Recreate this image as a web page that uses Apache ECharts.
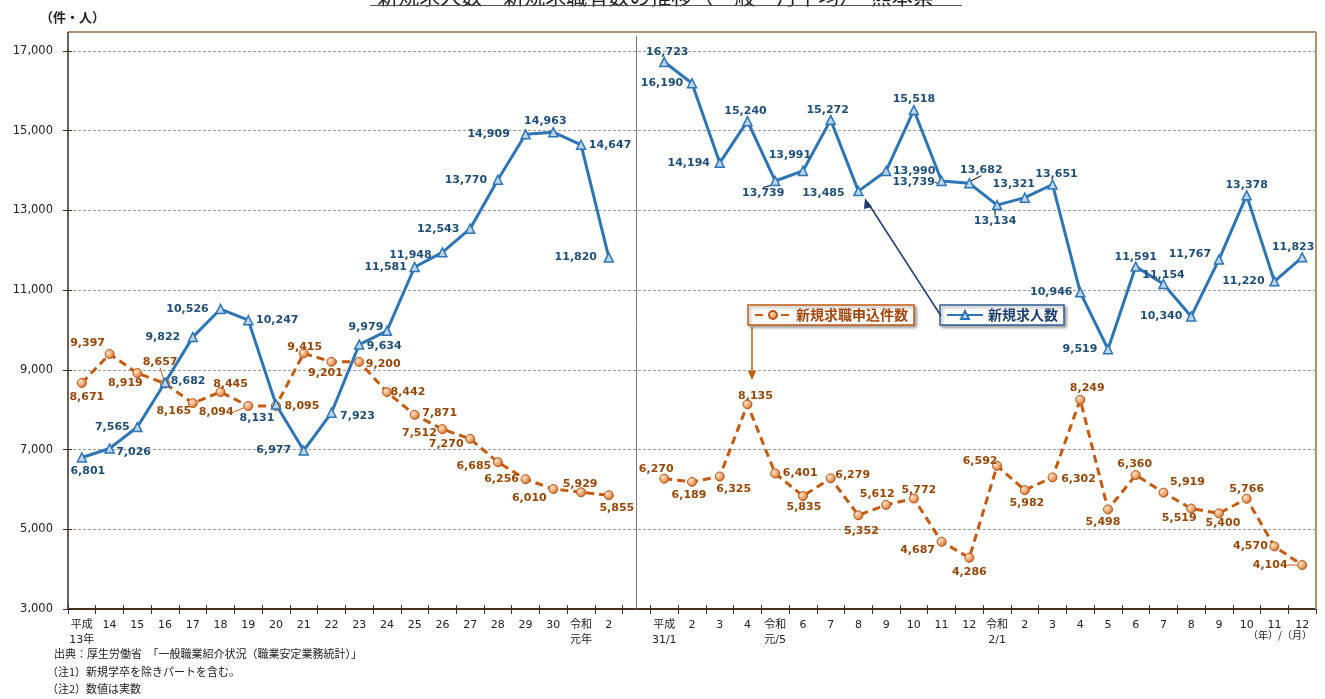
<!DOCTYPE html>
<html><head><meta charset="utf-8">
<script src="https://cdn.jsdelivr.net/npm/echarts@6/dist/echarts.min.js"></script>
<style>html,body{margin:0;padding:0;background:#fff}#c{width:1325px;height:699px}</style>
</head><body><div id="c"></div>
<script>
// ---- data ----
const yearCats = ['平成\n13年','14','15','16','17','18','19','20','21','22','23','24','25','26','27','28','29','30','令和\n元年','2'];
const monthCats = ['平成\n31/1','2','3','4','令和\n元/5','6','7','8','9','10','11','12','令和\n2/1','2','3','4','5','6','7','8','9','10','11','12'];
const yearJobs = [6801,7026,7565,8682,9822,10526,10247,8131,6977,7923,9634,9979,11581,11948,12543,13770,14909,14963,14647,11820];
const yearApps = [8671,9397,8919,8657,8165,8445,8094,8095,9415,9201,9200,8442,7871,7512,7270,6685,6256,6010,5929,5855];
const monthJobs = [16723,16190,14194,15240,13739,13991,15272,13485,13990,15518,13739,13682,13134,13321,13651,10946,9519,11591,11154,10340,11767,13378,11220,11823];
const monthApps = [6270,6189,6325,8135,6401,5835,6279,5352,5612,5772,4687,4286,6592,5982,6302,8249,5498,6360,5919,5519,5400,5766,4570,4104];
const yMin = 3000, yMax = 17000, yStep = 2000;

// ---- label placement (style only) ----
const jobsOffYear = [[6,14],[24,4],[-25,0],[23,-1],[-30,0],[-33,0],[29,0],[-19,14],[-30,0],[26,3],[25,2],[-21,-4],[-29,0],[-32,3],[-32,0],[-32,0],[-37,0],[-8,-11],[29,0],[-33,0]];
const jobsOffMonth = [[3,-10],[-30,0],[-31,0],[-2,-10],[-12,12],[-13,-16],[-3,-10],[-35,2],[28,0],[0,-11],[-28,1],[12,-13],[-2,16],[-11,-13],[4,-10],[-29,0],[-28,0],[0,-9],[0,-9],[-30,0],[-29,-5],[0,-10],[-31,0],[-9,-10]];
const appsOffYear = [[5,14],[-22,-11],[-12,10],[-5,-21],[-19,8],[10,-8],[-32,6],[26,0],[1,-6],[-6,11],[24,2],[21,0],[25,-2],[-23,4],[-24,5],[-24,4],[-24,0],[-24,9],[-1,-8],[8,13]];
const appsOffMonth = [[-8,-10],[-3,13],[14,13],[8,-8],[25,0],[1,11],[22,-3],[3,16],[-9,-11],[5,-8],[-24,8],[0,14],[-17,-5],[2,13],[26,2],[7,-12],[-5,13],[-1,-11],[24,-11],[-12,10],[4,10],[0,-10],[-24,0],[-32,0]];
const jobsLeaders = [25,31,32,33];
const appsLeaders = [3,6,33,44];

const cats = yearCats.concat([''], monthCats);
const jobsAll = yearJobs.concat([null], monthJobs);
const appsAll = yearApps.concat([null], monthApps);
const jobsOff = jobsOffYear.concat([null], jobsOffMonth);
const appsOff = appsOffYear.concat([null], appsOffMonth);

const numFont = 'DejaVu Sans, Verdana, sans-serif';
const jpFont = 'DejaVu Sans, Noto Sans CJK JP, sans-serif';
const blueLine = '#2e75b6', blueText = '#1f4e79';
const orangeLine = '#c55a11', orangeText = '#974706';

function mkData(vals, leaders, lineColor) {
  return vals.map((v, i) => {
    if (v === null) return '-';
    const d = { value: v };
    if (leaders.indexOf(i) >= 0) d.labelLine = { show: true, lineStyle: { color: lineColor, width: 1 } };
    return d;
  });
}

const chart = echarts.init(document.getElementById('c'), null, { renderer: 'canvas' });
const option = {
  animation: false,
  backgroundColor: '#fff',
  grid: { left: 68, right: 9, top: 51, bottom: 90 },
  xAxis: [{
    type: 'category', data: cats, boundaryGap: true,
    axisLine: { lineStyle: { color: '#4a3020', width: 2 } },
    axisTick: { show: true, length: 5, lineStyle: { color: '#4a3020' }, interval: 0 },
    axisLabel: { interval: 0, color: '#222', fontSize: 11, fontFamily: jpFont, lineHeight: 15, margin: 9 },
    splitLine: { show: false }
  }, {
    type: 'category', data: cats, boundaryGap: true, position: 'bottom',
    axisLine: { show: false },
    axisTick: { show: true, inside: true, length: 4, lineStyle: { color: '#4a3020' }, interval: 0 },
    axisLabel: { show: false }, splitLine: { show: false }
  }],
  yAxis: [{
    type: 'value', min: yMin, max: yMax, interval: yStep,
    axisLine: { show: true, lineStyle: { color: '#3a2a20', width: 1.5 } },
    axisTick: { show: true, length: 5, lineStyle: { color: '#3a2a20' } },
    axisLabel: { color: '#222', fontSize: 11.5, fontFamily: numFont, margin: 15,
      formatter: v => v.toLocaleString('en-US') },
    splitLine: { lineStyle: { color: '#999', type: [3, 2], width: 1 } }
  }, {
    type: 'value', min: yMin, max: yMax, interval: yStep, position: 'left',
    axisLine: { show: false },
    axisTick: { show: true, inside: true, length: 4, lineStyle: { color: '#3a2a20' } },
    axisLabel: { show: false }, splitLine: { show: false }
  }],
  legend: [
    { data: ['新規求職申込件数'], left: 748, top: 305, orient: 'horizontal', padding: [3, 6],
      itemWidth: 36, itemHeight: 10, itemGap: 10,
      backgroundColor: '#fff', borderColor: orangeLine, borderWidth: 1.5,
      shadowBlur: 3, shadowColor: 'rgba(0,0,0,0.35)', shadowOffsetX: 2, shadowOffsetY: 2,
      textStyle: { color: '#a5470b', fontWeight: 'bold', fontSize: 14, fontFamily: 'Noto Sans CJK JP' } },
    { data: ['新規求人数'], left: 940, top: 305, orient: 'horizontal', padding: [3, 6],
      itemWidth: 36, itemHeight: 10, itemGap: 10,
      backgroundColor: '#fff', borderColor: '#2f5f93', borderWidth: 1.5,
      shadowBlur: 3, shadowColor: 'rgba(0,0,0,0.35)', shadowOffsetX: 2, shadowOffsetY: 2,
      textStyle: { color: '#1f3f6f', fontWeight: 'bold', fontSize: 14, fontFamily: 'Noto Sans CJK JP' } }
  ],
  series: [
    {
      name: '新規求人数', type: 'line', data: mkData(jobsAll, jobsLeaders, '#000'),
      connectNulls: false, z: 3,
      lineStyle: { color: blueLine, width: 3 },
      symbol: 'triangle', symbolSize: 9, showAllSymbol: true,
      itemStyle: { color: '#bcd5ee', borderColor: blueLine, borderWidth: 1.5 },
      label: { show: true, position: 'inside', color: blueText, fontSize: 11, fontWeight: 'bold', fontFamily: numFont,
        formatter: p => p.value.toLocaleString('en-US') },
      labelLine: { show: false },
      labelLayout: p => { const o = jobsOff[p.dataIndex] || [0, 0]; return { dx: o[0], dy: o[1] }; }
    },
    {
      name: '新規求職申込件数', type: 'line', data: mkData(appsAll, appsLeaders, orangeLine),
      connectNulls: false, z: 2,
      lineStyle: { color: orangeLine, width: 3, type: [8, 5] },
      symbol: 'circle', symbolSize: 9, showAllSymbol: true,
      itemStyle: {
        color: new echarts.graphic.RadialGradient(0.35, 0.35, 0.7, [
          { offset: 0, color: '#fde3cc' }, { offset: 0.6, color: '#eda066' }, { offset: 1, color: '#b85a1a' }]),
        borderColor: '#b8581a', borderWidth: 1
      },
      label: { show: true, position: 'inside', color: orangeText, fontSize: 11, fontWeight: 'bold', fontFamily: numFont,
        formatter: p => p.value.toLocaleString('en-US') },
      labelLine: { show: false },
      labelLayout: p => { const o = appsOff[p.dataIndex] || [0, 0]; return { dx: o[0], dy: o[1] }; }
    }
  ]
};
chart.setOption(option);

// annotations
const divX = chart.convertToPixel({ xAxisIndex: 0 }, 20);
const xL = 68, xR = 1316, yT = 32, yB = 609;
chart.setOption({
  graphic: [
    { type: 'line', shape: { x1: xL, y1: yT, x2: xR, y2: yT }, style: { stroke: '#b8907a', lineWidth: 2 }, z: 1 },
    { type: 'line', shape: { x1: xR, y1: yT, x2: xR, y2: yB }, style: { stroke: '#b8907a', lineWidth: 2 }, z: 1 },
    { type: 'line', shape: { x1: xL, y1: yT, x2: xL, y2: 51 }, style: { stroke: '#3a2a20', lineWidth: 1.5 }, z: 1 },
    { type: 'line', shape: { x1: divX, y1: 36, x2: divX, y2: yB }, style: { stroke: '#777', lineWidth: 1 }, z: 1 },
    // title (cut off at the top)
    { type: 'text', style: { text: '新規求人数・新規求職者数の推移（一般・月平均）・熊本県・', x: 666, y: 7, textAlign: 'center', textVerticalAlign: 'bottom',
      fill: '#222', font: '21px "Noto Sans CJK JP"' } },
    { type: 'line', shape: { x1: 370, y1: 5.5, x2: 962, y2: 5.5 }, style: { stroke: '#555', lineWidth: 1.2 } },
    { type: 'text', style: { text: '（件・人）', x: 40, y: 17, textVerticalAlign: 'middle', fill: '#222', font: 'bold 13px "Noto Sans CJK JP"' } },
    { type: 'text', style: { text: '出典：厚生労働省　「一般職業紹介状況（職業安定業務統計）」', x: 54, y: 654, textVerticalAlign: 'middle', fill: '#222', font: '11px "Noto Sans CJK JP"' } },
    { type: 'text', style: { text: '（注1）新規学卒を除きパートを含む。', x: 47, y: 672, textVerticalAlign: 'middle', fill: '#222', font: '11px "Noto Sans CJK JP"' } },
    { type: 'text', style: { text: '（注2）数値は実数', x: 47, y: 689, textVerticalAlign: 'middle', fill: '#222', font: '11px "Noto Sans CJK JP"' } },
    { type: 'text', style: { text: '（年）/（月）', x: 1312, y: 635, textAlign: 'right', textVerticalAlign: 'middle', fill: '#222', font: '10px "Noto Sans CJK JP"' } },
    // orange legend arrow
    { type: 'line', shape: { x1: 752, y1: 327, x2: 752, y2: 372 }, style: { stroke: orangeLine, lineWidth: 1.5 }, z: 5 },
    { type: 'polygon', shape: { points: [[748, 371], [756, 371], [752, 380]] }, style: { fill: orangeLine }, z: 5 },
    // blue legend arrow
    { type: 'line', shape: { x1: 941, y1: 316, x2: 868, y2: 203 }, style: { stroke: '#1f3f6f', lineWidth: 1.5 }, z: 5 },
    { type: 'polygon', shape: { points: [[865, 198], [872, 207], [864, 209]] }, style: { fill: '#1f3f6f' }, z: 5 }
  ]
});
</script></body></html>
